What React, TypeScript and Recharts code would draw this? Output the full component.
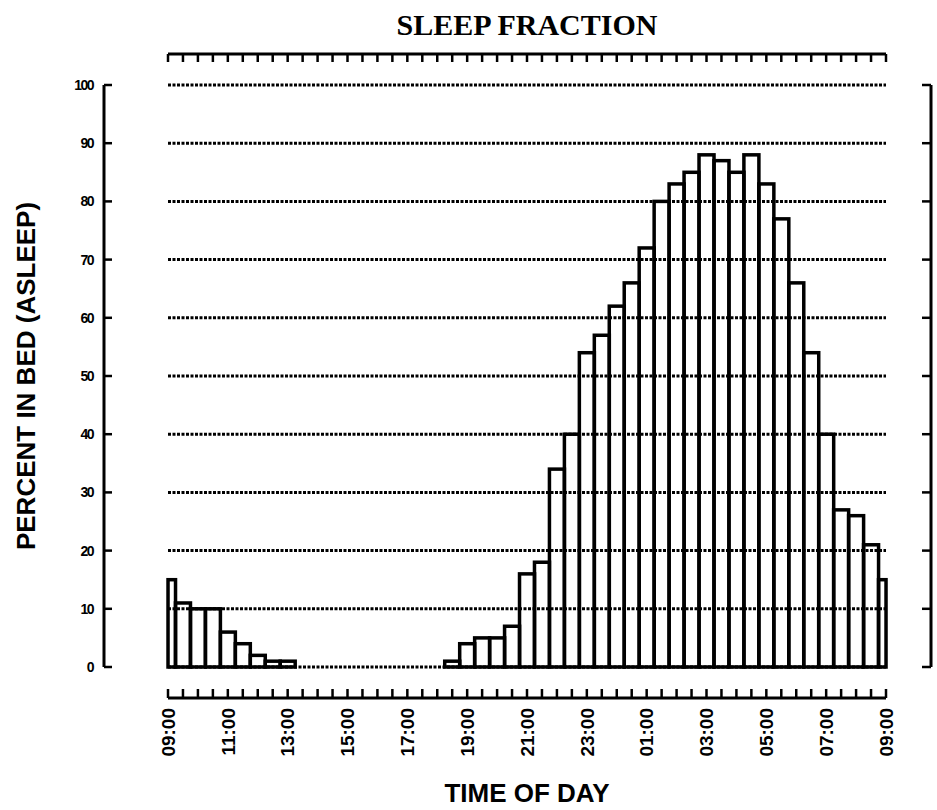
import React from 'react';
import { BarChart, Bar, XAxis, YAxis, CartesianGrid } from 'recharts';

// percent asleep per half-hour slot, 09:00 through 09:00 next morning
const sleepPct = [
  15, 11, 10, 10, 6, 4, 2, 1, 1, 0, 0, 0, 0, 0, 0, 0, 0, 0, 0, 1, 4, 5, 5, 7, 16,
  18, 34, 40, 54, 57, 62, 66, 72, 80, 83, 85, 88, 87, 85, 88, 83, 77, 66, 54, 40,
  27, 26, 21, 15,
];
const timeLabels = ['09:00', '11:00', '13:00', '15:00', '17:00', '19:00', '21:00', '23:00', '01:00', '03:00', '05:00', '07:00', '09:00'];
const slotsPerLabel = 4;
const pctTicks = [0, 10, 20, 30, 40, 50, 60, 70, 80, 90, 100];

const data = sleepPct.map((pct, slot) => ({ slot, pct }));
const slotTicks = data.map((d) => d.slot);
const lastSlot = sleepPct.length - 1;
const slotDomain = [0, lastSlot];
const pctDomain = [0, 100];

const sans = '"Liberation Sans", Arial, sans-serif';
const serif = '"Liberation Serif", "Times New Roman", serif';
const axisStroke = { stroke: '#000', strokeWidth: 3 };
const tickStroke = { stroke: '#000', strokeWidth: 2.5 };
const yTickStyle = { fill: '#000', fontSize: 14, fontWeight: 'bold', fontFamily: sans, letterSpacing: -1.5 };

const titleLabel = {
  value: 'SLEEP FRACTION', position: 'insideTop', offset: 14,
  fill: '#000', fontSize: 30, fontWeight: 'bold', fontFamily: serif,
};
const xTitle = {
  value: 'TIME OF DAY', position: 'insideBottom', offset: 8,
  fill: '#000', fontSize: 26, fontWeight: 'bold', fontFamily: sans,
};
const yTitle = {
  value: 'PERCENT IN BED (ASLEEP)', angle: -90, position: 'insideLeft', offset: 26,
  style: { textAnchor: 'middle' }, fill: '#000', fontSize: 26, fontWeight: 'bold', fontFamily: sans,
};

// first and last slots straddle the axis ends, so only half of each is shown
function HistBar(props: any) {
  const { x, y, width, height, payload } = props;
  if (!height || height <= 0) return <g />;
  let left = x;
  let w = width;
  if (payload.slot === 0) {
    left = x + width / 2;
    w = width / 2;
  } else if (payload.slot === lastSlot) {
    w = width / 2;
  }
  return <rect x={left} y={y} width={w} height={height} fill="none" stroke="#000" strokeWidth={3.5} />;
}

function TimeTick({ x, y, payload }: any) {
  const slot = payload.value;
  if (slot % slotsPerLabel !== 0) return <g />;
  return (
    <text
      x={x}
      y={y}
      transform={`rotate(-90, ${x}, ${y})`}
      textAnchor="end"
      dy="0.36em"
      fill="#000"
      fontSize={19}
      fontWeight="bold"
      fontFamily={sans}
    >
      {timeLabels[slot / slotsPerLabel]}
    </text>
  );
}

const NoTick = () => <g />;

export default function App() {
  return (
    <div style={{ width: 937, height: 810, background: '#fff' }}>
      <style>{'body{margin:0;background:#fff}'}</style>
      <BarChart
        width={937}
        height={810}
        data={data}
        margin={{ top: 0, right: 0, bottom: 0, left: 0 }}
        barCategoryGap={0}
      >
        <XAxis xAxisId="xb" dataKey="slot" type="number" domain={slotDomain} ticks={slotTicks} interval={0}
          orientation="bottom" height={112} tickSize={-9} tickMargin={19}
          axisLine={axisStroke} tickLine={tickStroke} tick={TimeTick} label={xTitle} />
        <XAxis xAxisId="xt" dataKey="slot" type="number" domain={slotDomain} ticks={slotTicks} interval={0}
          orientation="top" height={54} tickSize={-8}
          axisLine={axisStroke} tickLine={tickStroke} tick={NoTick} label={titleLabel} />
        <YAxis yAxisId="yl" dataKey="pct" type="number" domain={pctDomain} ticks={pctTicks} interval={0}
          width={104} tickSize={-8} tickMargin={19}
          axisLine={axisStroke} tickLine={tickStroke} tick={yTickStyle} label={yTitle} />
        <YAxis yAxisId="yr" dataKey="pct" orientation="right" type="number" domain={pctDomain} ticks={pctTicks} interval={0}
          width={6} tickSize={-9}
          axisLine={axisStroke} tickLine={tickStroke} tick={NoTick} />

        {/* empty gap axes keep the frame away from the bars */}
        <XAxis xAxisId="ab" dataKey="slot" type="number" domain={slotDomain}
          orientation="bottom" height={31} axisLine={false} tickLine={false} tick={false} />
        <XAxis xAxisId="at" dataKey="slot" type="number" domain={slotDomain}
          orientation="top" height={31} axisLine={false} tickLine={false} tick={false} />
        <YAxis yAxisId="al" dataKey="pct" type="number" domain={pctDomain}
          width={64} axisLine={false} tickLine={false} tick={false} />
        <YAxis yAxisId="ar" dataKey="pct" orientation="right" type="number" domain={pctDomain}
          width={45} axisLine={false} tickLine={false} tick={false} />

        <CartesianGrid xAxisId="xb" yAxisId="yl" vertical={false}
          stroke="#000" strokeWidth={3} strokeDasharray="3 1.5" />
        <Bar xAxisId="xb" yAxisId="yl" dataKey="pct" shape={HistBar} isAnimationActive={false} />
      </BarChart>
    </div>
  );
}
